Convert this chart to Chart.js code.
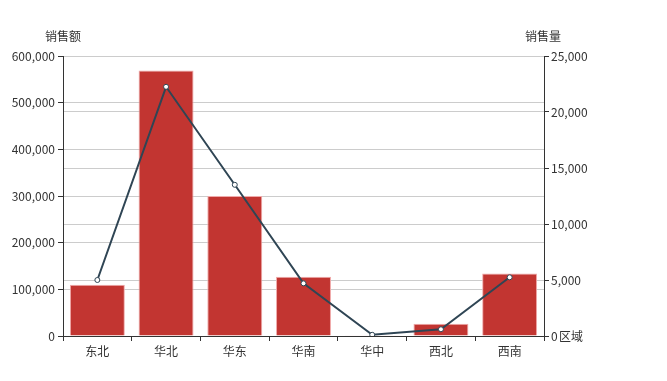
<!DOCTYPE html>
<html>
<head>
<meta charset="utf-8">
<script src="https://cdn.jsdelivr.net/npm/chart.js@4.4.0/dist/chart.umd.min.js"></script>
<style>
  html, body { margin: 0; padding: 0; background: #fff; }
  #wrap { width: 667px; height: 381px; }
</style>
</head>
<body>
<div id="wrap"><canvas id="salesChart" width="667" height="381"></canvas></div>
<script>
// 区域及数据
const regions = ['东北', '华北', '华东', '华南', '华中', '西北', '西南'];
const salesAmount = [110000, 569000, 300000, 127000, 1500, 26000, 134000];
const salesVolume = [5000, 22250, 13500, 4700, 110, 600, 5240];

const textColor = '#333';
const fontFamily = '"Noto Sans CJK SC", "Microsoft YaHei", sans-serif';

// 轴名称
const axisNamePlugin = {
  id: 'axisNames',
  afterDraw(chart) {
    const ctx = chart.ctx;
    const area = chart.chartArea;
    ctx.save();
    ctx.fillStyle = textColor;
    ctx.font = '12px ' + fontFamily;
    ctx.textBaseline = 'middle';
    ctx.textAlign = 'center';
    ctx.fillText('销售额', area.left, area.top - 20);
    ctx.fillText('销售量', area.right - 1, area.top - 20);
    ctx.textAlign = 'left';
    ctx.fillText('区域', area.right + 15, area.bottom);
    ctx.restore();
  }
};

const ctx = document.getElementById('salesChart').getContext('2d');

new Chart(ctx, {
  type: 'bar',
  data: {
    labels: regions,
    datasets: [
      {
        type: 'line',
        label: '销售量',
        data: salesVolume,
        yAxisID: 'y1',
        borderColor: '#2f4554',
        borderWidth: 2,
        tension: 0,
        pointRadius: 2.5,
        pointBackgroundColor: '#fff',
        pointBorderColor: '#2f4554',
        pointBorderWidth: 1,
        order: 0
      },
      {
        type: 'bar',
        label: '销售额',
        data: salesAmount,
        yAxisID: 'y',
        backgroundColor: '#c23531',
        borderColor: 'rgba(240, 170, 170, 1)',
        borderWidth: 1,
        categoryPercentage: 1,
        barPercentage: 0.8,
        order: 1
      }
    ]
  },
  options: {
    responsive: false,
    animation: false,
    layout: { padding: { top: 56, left: 0, right: 0, bottom: 0 } },
    plugins: {
      legend: { display: false },
      tooltip: { enabled: false }
    },
    scales: {
      x: {
        grid: {
          offset: true,
          drawOnChartArea: false,
          drawTicks: true,
          tickLength: 5,
          tickColor: textColor
        },
        border: { display: true, color: textColor },
        ticks: {
          color: textColor,
          font: { size: 12, family: fontFamily },
          padding: 3,
          maxRotation: 0
        },
        afterFit(scale) { scale.height = 45; }
      },
      y: {
        position: 'left',
        min: 0,
        max: 600000,
        grid: {
          color: '#ccc',
          tickLength: 5,
          tickColor: textColor
        },
        border: { display: true, color: textColor },
        ticks: {
          stepSize: 100000,
          color: textColor,
          font: { size: 12, family: fontFamily },
          padding: 3,
          callback: v => v.toLocaleString('en-US')
        },
        afterFit(scale) { scale.width = 63; }
      },
      y1: {
        position: 'right',
        min: 0,
        max: 25000,
        grid: {
          color: '#ccc',
          tickLength: 5,
          tickColor: textColor
        },
        border: { display: true, color: textColor },
        ticks: {
          stepSize: 5000,
          color: textColor,
          font: { size: 12, family: fontFamily },
          padding: 2,
          callback: v => v.toLocaleString('en-US')
        },
        afterFit(scale) { scale.width = 123; }
      }
    }
  },
  plugins: [axisNamePlugin]
});
</script>
</body>
</html>
